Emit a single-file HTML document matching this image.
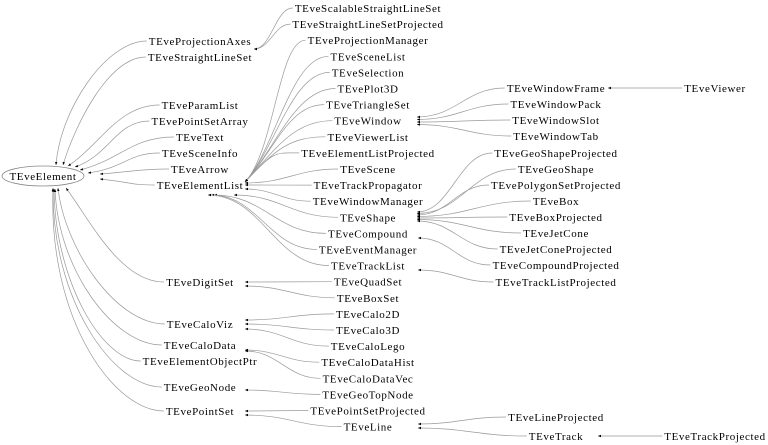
<!DOCTYPE html>
<html><head><meta charset="utf-8"><style>
html,body{margin:0;padding:0;background:#fff;width:768px;height:445px;overflow:hidden}
svg text{font-family:"Liberation Serif",serif;font-size:11px;letter-spacing:0.6px;fill:#000}
</style></head><body>
<svg id="s" width="768" height="445" viewBox="0 0 768 445" xmlns="http://www.w3.org/2000/svg">
<ellipse cx="43" cy="176" rx="41" ry="10" fill="none" stroke="#888" stroke-width="0.8"/>
<text x="43" y="180" text-anchor="middle">TEveElement</text>
<g id="t"></g><g id="e"></g>
</svg>
<script>
(function(){
var N={};
function T(name,x,y){N[name]={x:x,y:y};}
[["TEveProjectionAxes",41],["TEveStraightLineSet",57],["TEveParamList",105],["TEvePointSetArray",121],["TEveText",137],["TEveSceneInfo",153],["TEveArrow",169],["TEveElementList",185],["TEveDigitSet",282],["TEveCaloViz",324],["TEveCaloData",345],["TEveElementObjectPtr",361],["TEveGeoNode",387],["TEvePointSet",411]].forEach(function(a){T(a[0],200,a[1]);});
["TEveScalableStraightLineSet","TEveStraightLineSetProjected","TEveProjectionManager","TEveSceneList","TEveSelection","TEvePlot3D","TEveTriangleSet","TEveWindow","TEveViewerList","TEveElementListProjected","TEveScene","TEveTrackPropagator","TEveWindowManager","TEveShape","TEveCompound","TEveEventManager","TEveTrackList","TEveQuadSet","TEveBoxSet","TEveCalo2D","TEveCalo3D","TEveCaloLego","TEveCaloDataHist","TEveCaloDataVec","TEveGeoTopNode","TEvePointSetProjected","TEveLine"].forEach(function(n,i){T(n,368,8+i*16.1);});
[["TEveWindowFrame",88],["TEveWindowPack",104],["TEveWindowSlot",120],["TEveWindowTab",136],["TEveGeoShapeProjected",153],["TEveGeoShape",169],["TEvePolygonSetProjected",185],["TEveBox",201],["TEveBoxProjected",217],["TEveJetCone",233],["TEveJetConeProjected",249],["TEveCompoundProjected",265],["TEveTrackListProjected",282],["TEveLineProjected",417],["TEveTrack",436]].forEach(function(a){T(a[0],556,a[1]);});
T("TEveViewer",715,88);T("TEveTrackProjected",715,436);
var tg=document.getElementById("t"),eg=document.getElementById("e"),NS="http://www.w3.org/2000/svg";
for(var k in N){var t=document.createElementNS(NS,"text");t.setAttribute("x",N[k].x);t.setAttribute("y",N[k].y+4);t.setAttribute("text-anchor","middle");t.textContent=k;tg.appendChild(t);N[k].w=t.getComputedTextLength();}
function L(n){return [N[n].x-N[n].w/2-2,N[n].y];}
function edge(p,tip,c2){
 var dx=p[0]-tip[0];
 var c1=[p[0]-dx*0.45,p[1]];
 if(!c2)c2=[tip[0]+dx*0.45,tip[1]];
 var pa=document.createElementNS(NS,"path");
 pa.setAttribute("d","M"+p[0]+","+p[1]+" C"+c1[0]+","+c1[1]+" "+c2[0]+","+c2[1]+" "+tip[0]+","+tip[1]);
 pa.setAttribute("fill","none");pa.setAttribute("stroke","#999");pa.setAttribute("stroke-width","0.7");eg.appendChild(pa);
 var ang=Math.atan2(tip[1]-c2[1],tip[0]-c2[0]),s=3,h=1.2;
 var bx=tip[0]-s*Math.cos(ang),by=tip[1]-s*Math.sin(ang);
 var ar=document.createElementNS(NS,"polygon");
 ar.setAttribute("points",tip[0]+","+tip[1]+" "+(bx-h*Math.sin(ang))+","+(by+h*Math.cos(ang))+" "+(bx+h*Math.sin(ang))+","+(by-h*Math.cos(ang)));
 ar.setAttribute("fill","#000");eg.appendChild(ar);
}
var tops=[["TEveProjectionAxes",[56,165],[60,110]],["TEveStraightLineSet",[63,165],[75,125]],["TEveParamList",[68,166],[100,145]],["TEvePointSetArray",[75,167],[110,155]],["TEveText",[80,170],[120,160]],["TEveSceneInfo",[88,173],[125,168]],["TEveArrow",[100,174],[130,172]],["TEveElementList",[100,179],[130,182]]];
tops.forEach(function(a){edge(L(a[0]),a[1],a[2]);});
var bots=[["TEveDigitSet",[66,188],[90,220]],["TEveCaloViz",[58,188],[65,250]],["TEveCaloData",[55,189],[58,270]],["TEveElementObjectPtr",[54,189],[55,280]],["TEveGeoNode",[53,189],[52,300]],["TEvePointSet",[53,188],[48,320]]];
bots.forEach(function(a){edge(L(a[0]),a[1],a[2]);});
edge(L("TEveScalableStraightLineSet"),[254,49]);edge(L("TEveStraightLineSetProjected"),[254,49]);
["TEveProjectionManager","TEveSceneList","TEveSelection","TEvePlot3D","TEveTriangleSet","TEveWindow","TEveViewerList","TEveElementListProjected"].forEach(function(n){edge(L(n),[245,182],[275,150]);});
edge(L("TEveScene"),[245,183]);edge(L("TEveTrackPropagator"),[245,185]);edge(L("TEveWindowManager"),[245,189]);
edge(L("TEveShape"),[234,195]);edge(L("TEveCompound"),[214,195]);edge(L("TEveEventManager"),[211,195]);edge(L("TEveTrackList"),[208,195]);
edge(L("TEveQuadSet"),[245,282]);edge(L("TEveBoxSet"),[245,286]);
edge(L("TEveCalo2D"),[245,320]);edge(L("TEveCalo3D"),[245,324]);edge(L("TEveCaloLego"),[245,329]);
edge(L("TEveCaloDataHist"),[245,350]);edge(L("TEveCaloDataVec"),[245,351]);
edge(L("TEveGeoTopNode"),[245,390]);
edge(L("TEvePointSetProjected"),[245,411]);edge(L("TEveLine"),[245,415]);
["TEveWindowFrame","TEveWindowPack","TEveWindowSlot","TEveWindowTab"].forEach(function(n,i){edge(L(n),[417,117+i*2.5]);});
["TEveGeoShapeProjected","TEveGeoShape","TEvePolygonSetProjected","TEveBox","TEveBoxProjected","TEveJetCone","TEveJetConeProjected"].forEach(function(n,i){edge(L(n),[417,212+i*1.5]);});
edge(L("TEveCompoundProjected"),[418,238]);
edge(L("TEveTrackListProjected"),[418,270]);
edge(L("TEveLineProjected"),[418,424]);edge(L("TEveTrack"),[418,428]);
edge(L("TEveViewer"),[608,88]);edge(L("TEveTrackProjected"),[598,436]);
})();
</script>
</body></html>
